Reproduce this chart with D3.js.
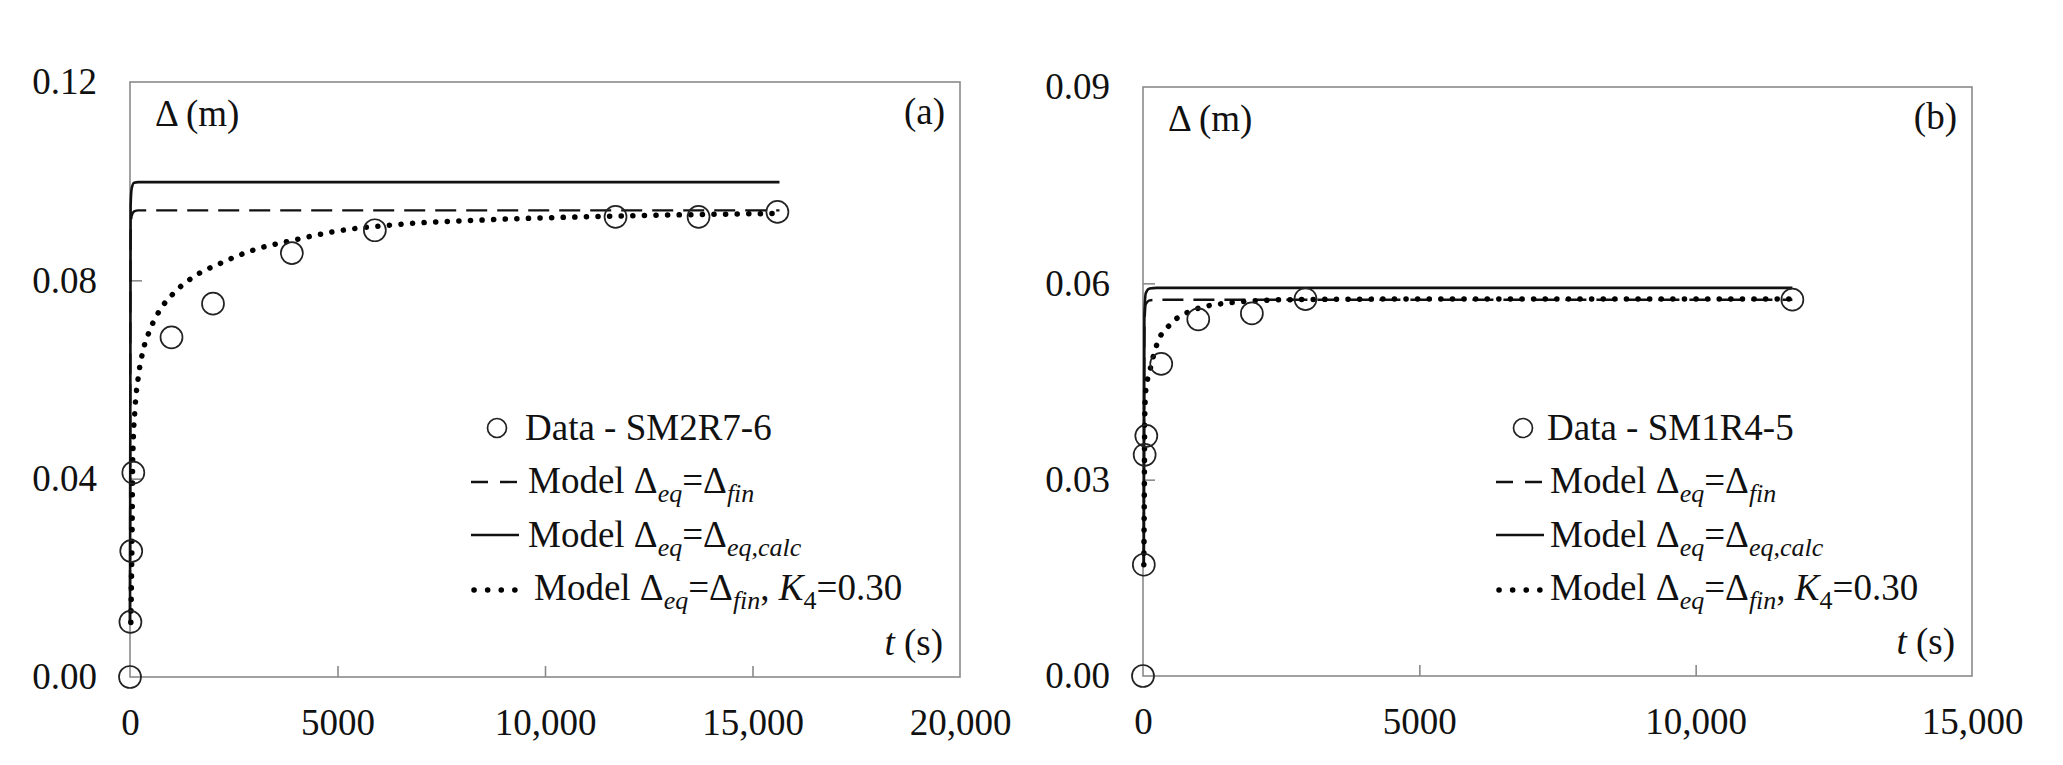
<!DOCTYPE html>
<html>
<head>
<meta charset="utf-8" />
<title>Settlement against time</title>
<script src="https://cdn.jsdelivr.net/npm/d3@7"></script>
<style>
  body { margin: 0; background: #fff; }
  svg text { font-family: "Liberation Serif", "Times New Roman", serif; fill: #111; }
</style>
</head>
<body>
<svg width="2063" height="765"></svg>
<script>
// panel (a) - SM2R7-6
var tDataA = [0, 10, 30, 80, 1000, 2000, 3900, 5900, 11700, 13700, 15600];
var dDataA = [0, 0.0111, 0.0254, 0.0412, 0.0685, 0.0753, 0.0855, 0.0901, 0.0928, 0.0928, 0.0938];
var tFinA = [0, 15, 40, 100, 200, 15650];
var dFinA = [0.011, 0.089, 0.093, 0.0939, 0.0941, 0.0941];
var tCalcA = [0, 15, 40, 100, 200, 15650];
var dCalcA = [0.011, 0.095, 0.0985, 0.0997, 0.0998, 0.0998];
var tK4A = [20, 50, 65, 120, 200, 320, 480, 720, 1040, 1530, 2170, 2970, 3940, 4900, 6500, 8600, 12000, 15650];
var dK4A = [0.011, 0.030, 0.044, 0.054, 0.0605, 0.066, 0.070, 0.074, 0.0773, 0.0807, 0.0834, 0.0861, 0.0881, 0.0898, 0.0913, 0.0922, 0.0930, 0.0935];
var xTicksA = [0, 5000, 10000, 15000, 20000];
var xLabelsA = ["0", "5000", "10,000", "15,000", "20,000"];
var yTicksA = [0, 0.04, 0.08, 0.12];

// panel (b) - SM1R4-5
var tDataB = [0, 15, 30, 60, 330, 1000, 1970, 2940, 11750];
var dDataB = [0, 0.0170, 0.0338, 0.0367, 0.0477, 0.0545, 0.0554, 0.0576, 0.0575];
var tFinB = [15, 25, 50, 120, 250, 11750];
var dFinB = [0.017, 0.053, 0.0568, 0.0574, 0.0575, 0.0575];
var tCalcB = [15, 25, 50, 120, 250, 11750];
var dCalcB = [0.017, 0.055, 0.0585, 0.0592, 0.0593, 0.0593];
var tK4B = [15, 25, 30, 45, 128, 257, 516, 905, 1551, 2584, 5000, 11750];
var dK4B = [0.017, 0.030, 0.0386, 0.0432, 0.0468, 0.0508, 0.0539, 0.0559, 0.0570, 0.0575, 0.0576, 0.0576];
var xTicksB = [0, 5000, 10000, 15000];
var xLabelsB = ["0", "5000", "10,000", "15,000"];
var yTicksB = [0, 0.03, 0.06, 0.09];

var svg = d3.select("svg");
var fs = 37;

function zip(t, d) {
    return t.map(function (v, i) { return { t: v, d: d[i] }; });
}

// writes text with italic subscripts
function richText(g, x, y, parts) {
    var txt = g.append("text").attr("x", x).attr("y", y).style("font-size", fs + "px");
    parts.forEach(function (p) {
        var s = txt.append("tspan").text(p.s);
        if (p.sub) {
            s.attr("dy", 9).style("font-size", "26px");
            if (p.it !== false) s.style("font-style", "italic");
        } else if (p.back) {
            s.attr("dy", -9);
        }
        if (p.it && !p.sub) s.style("font-style", "italic");
    });
    return txt;
}

function drawPanel(p) {
    var x = d3.scaleLinear().domain(p.xDom).range([p.left, p.right]);
    var y = d3.scaleLinear().domain(p.yDom).range([p.bottom, p.top]);
    var g = svg.append("g");

    // frame
    g.append("rect")
        .attr("x", p.left).attr("y", p.top)
        .attr("width", p.right - p.left).attr("height", p.bottom - p.top)
        .attr("fill", "none").attr("stroke", "#8a8a8a").attr("stroke-width", 1.6);

    var xAxis = d3.axisBottom(x).tickValues(p.xTicks)
        .tickFormat(function (d, i) { return p.xLabels[i]; })
        .tickSizeInner(-11).tickSizeOuter(0).tickPadding(32);
    var yAxis = d3.axisLeft(y).tickValues(p.yTicks)
        .tickFormat(d3.format(".2f"))
        .tickSizeInner(-12).tickSizeOuter(0).tickPadding(33);

    var ax = g.append("g").attr("transform", "translate(0," + p.bottom + ")").call(xAxis);
    var ay = g.append("g").attr("transform", "translate(" + p.left + ",0)").call(yAxis);
    [ax, ay].forEach(function (a) {
        a.select(".domain").remove();
        a.selectAll(".tick line").attr("stroke", "#8a8a8a").attr("stroke-width", 1.6);
        a.selectAll(".tick text").style("font-size", fs + "px")
            .style("font-family", "'Liberation Serif', 'Times New Roman', serif").attr("fill", "#111");
    });
    ax.selectAll(".tick").filter(function (d) { return d === 0 || d === p.xDom[1]; }).select("line").remove();
    ay.selectAll(".tick").filter(function (d) { return d === 0 || d === p.yDom[1]; }).select("line").remove();

    var line = d3.line()
        .x(function (d) { return x(d.t); })
        .y(function (d) { return y(d.d); })
        .curve(d3.curveMonotoneX);

    g.append("path").datum(zip(p.tCalc, p.dCalc)).attr("d", line)
        .attr("fill", "none").attr("stroke", "#111").attr("stroke-width", 2.6);
    g.append("path").datum(zip(p.tFin, p.dFin)).attr("d", line)
        .attr("fill", "none").attr("stroke", "#111").attr("stroke-width", 2.4)
        .attr("stroke-dasharray", "21 10");
    g.append("path").datum(zip(p.tK4, p.dK4)).attr("d", line)
        .attr("fill", "none").attr("stroke", "#000").attr("stroke-width", 5.5)
        .attr("stroke-linecap", "round").attr("stroke-dasharray", "0.1 11.5");

    g.selectAll("circle.pt").data(zip(p.tData, p.dData)).enter().append("circle")
        .attr("class", "pt")
        .attr("cx", function (d) { return x(d.t); })
        .attr("cy", function (d) { return y(d.d); })
        .attr("r", 11)
        .attr("fill", "none").attr("stroke", "#222").attr("stroke-width", 1.7);

    // axis titles and panel letter
    richText(g, p.left + 25, p.top + 44, [{ s: "Δ (m)" }]);
    g.append("text").attr("x", p.right - 15).attr("y", p.top + 42)
        .attr("text-anchor", "end").style("font-size", fs + "px").text(p.letter);
    richText(g, p.right - 17, p.bottom - 22, [{ s: "t", it: true }, { s: " (s)" }])
        .attr("text-anchor", "end");

    // legend
    var lg = g.append("g");
    var sx0 = p.legX, sx1 = p.legX + 48;
    lg.append("circle").attr("cx", (sx0 + sx1) / 2 + p.circShift).attr("cy", 428).attr("r", 9.5)
        .attr("fill", "none").attr("stroke", "#222").attr("stroke-width", 1.7);
    lg.append("line").attr("x1", sx0).attr("x2", sx1).attr("y1", 482).attr("y2", 482)
        .attr("stroke", "#111").attr("stroke-width", 2.4).attr("stroke-dasharray", "17 12");
    lg.append("line").attr("x1", sx0).attr("x2", sx1).attr("y1", 535).attr("y2", 535)
        .attr("stroke", "#111").attr("stroke-width", 2.6);
    lg.append("line").attr("x1", sx0 + 3).attr("x2", sx1).attr("y1", 590).attr("y2", 590)
        .attr("stroke", "#000").attr("stroke-width", 5.5).attr("stroke-linecap", "round")
        .attr("stroke-dasharray", "0.1 13.5");

    var tx = sx1 + p.textGap;
    richText(lg, tx - 3, 440, [{ s: "Data - " + p.name }]);
    richText(lg, tx, 493, [{ s: "Model Δ" }, { s: "eq", sub: true }, { s: "=Δ", back: true }, { s: "fin", sub: true }]);
    richText(lg, tx, 547, [{ s: "Model Δ" }, { s: "eq", sub: true }, { s: "=Δ", back: true }, { s: "eq,calc", sub: true }]);
    richText(lg, tx + p.lastShift, 600, [{ s: "Model Δ" }, { s: "eq", sub: true }, { s: "=Δ", back: true },
        { s: "fin", sub: true }, { s: ", ", back: true }, { s: "K", it: true }, { s: "4", sub: true, it: false },
        { s: "=0.30", back: true }]);
}

drawPanel({
    left: 130, right: 960, top: 82, bottom: 677,
    xDom: [0, 20000], yDom: [0, 0.12],
    xTicks: xTicksA, xLabels: xLabelsA, yTicks: yTicksA,
    tData: tDataA, dData: dDataA, tFin: tFinA, dFin: dFinA,
    tCalc: tCalcA, dCalc: dCalcA, tK4: tK4A, dK4: dK4A,
    letter: "(a)", name: "SM2R7-6",
    legX: 471, textGap: 9, circShift: 2, lastShift: 6
});

drawPanel({
    left: 1143, right: 1972, top: 87, bottom: 676,
    xDom: [0, 15000], yDom: [0, 0.09],
    xTicks: xTicksB, xLabels: xLabelsB, yTicks: yTicksB,
    tData: tDataB, dData: dDataB, tFin: tFinB, dFin: dFinB,
    tCalc: tCalcB, dCalc: dCalcB, tK4: tK4B, dK4: dK4B,
    letter: "(b)", name: "SM1R4-5",
    legX: 1496, textGap: 6, circShift: 3, lastShift: 0
});
</script>
</body>
</html>
